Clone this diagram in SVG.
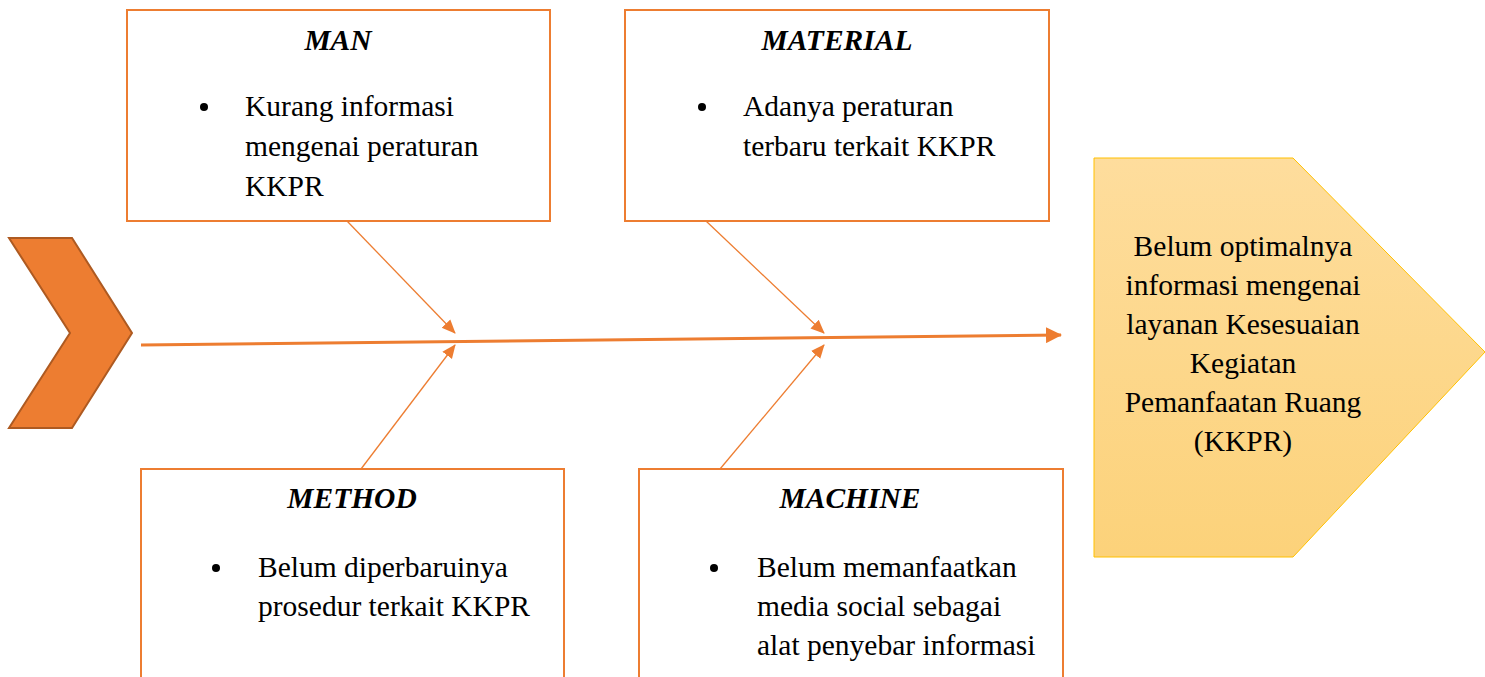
<svg xmlns="http://www.w3.org/2000/svg" width="1485" height="677" viewBox="0 0 1485 677">
<defs>
<style>
.box{fill:#fff;stroke:#ED7D31;stroke-width:2}
.t{font-family:"Liberation Serif","Times New Roman",serif;font-size:29.5px;fill:#000}
.h{font-family:"Liberation Serif","Times New Roman",serif;font-size:29.5px;font-weight:bold;font-style:italic;fill:#000;text-anchor:middle}
.c{text-anchor:middle}
.br{stroke:#ED7D31;stroke-width:1.3;fill:none}
.main{stroke:#ED7D31;stroke-width:3;fill:none}
</style>
<linearGradient id="g" x1="0" y1="0" x2="0" y2="1">
<stop offset="0" stop-color="#FEDD9D"/>
<stop offset="1" stop-color="#FCD27A"/>
</linearGradient>
<marker id="ah" markerWidth="14" markerHeight="14" refX="13" refY="7" orient="auto" markerUnits="userSpaceOnUse" viewBox="0 0 14 14">
<path d="M0,1 L14,7 L0,13 z" fill="#ED7D31"/>
</marker>
<marker id="am" markerWidth="16" markerHeight="16" refX="15" refY="8" orient="auto" markerUnits="userSpaceOnUse" viewBox="0 0 16 16">
<path d="M0,0 L16,8 L0,16 z" fill="#ED7D31"/>
</marker>
</defs>
<g id="head">
<polygon points="9,238 72,238 132,333 72,428 9,428 70,333" fill="#ED7D31" stroke="#AE5A21" stroke-width="2"/>
</g>
<g id="connectors">
<line class="main" x1="141" y1="345" x2="1061" y2="335" marker-end="url(#am)"/>
<line class="br" x1="347" y1="221" x2="455" y2="333" marker-end="url(#ah)"/>
<line class="br" x1="361" y1="469" x2="455" y2="345" marker-end="url(#ah)"/>
<line class="br" x1="706" y1="221" x2="824" y2="333" marker-end="url(#ah)"/>
<line class="br" x1="720" y1="469" x2="824" y2="345" marker-end="url(#ah)"/>
</g>
<g id="man">
<rect class="box" x="127" y="10" width="423" height="211"/>
<text class="h" x="338" y="50">MAN</text>
<circle cx="204" cy="107" r="4"/>
<text class="t" x="245" y="116">Kurang informasi</text>
<text class="t" x="245" y="156">mengenai peraturan</text>
<text class="t" x="245" y="196">KKPR</text>
</g>
<g id="material">
<rect class="box" x="625" y="10" width="424" height="211"/>
<text class="h" x="837" y="50">MATERIAL</text>
<circle cx="702" cy="107" r="4"/>
<text class="t" x="743" y="116">Adanya peraturan</text>
<text class="t" x="743" y="156">terbaru terkait KKPR</text>
</g>
<g id="method">
<rect class="box" x="141" y="469" width="423" height="230"/>
<text class="h" x="352" y="508">METHOD</text>
<circle cx="216" cy="568" r="4"/>
<text class="t" x="258" y="577">Belum diperbaruinya</text>
<text class="t" x="258" y="616">prosedur terkait KKPR</text>
</g>
<g id="machine">
<rect class="box" x="639" y="469" width="424" height="230"/>
<text class="h" x="850" y="508">MACHINE</text>
<circle cx="714" cy="568" r="4"/>
<text class="t" x="757" y="577">Belum memanfaatkan</text>
<text class="t" x="757" y="616">media social sebagai</text>
<text class="t" x="757" y="655">alat penyebar informasi</text>
</g>
<g id="effect">
<polygon points="1094,158 1293,158 1485,352 1293,557 1094,557" fill="url(#g)" stroke="#FFC000" stroke-width="1"/>
<text class="t c" x="1243" y="256">Belum optimalnya</text>
<text class="t c" x="1243" y="295">informasi mengenai</text>
<text class="t c" x="1243" y="334">layanan Kesesuaian</text>
<text class="t c" x="1243" y="373">Kegiatan</text>
<text class="t c" x="1243" y="412">Pemanfaatan Ruang</text>
<text class="t c" x="1243" y="451">(KKPR)</text>
</g>
</svg>
